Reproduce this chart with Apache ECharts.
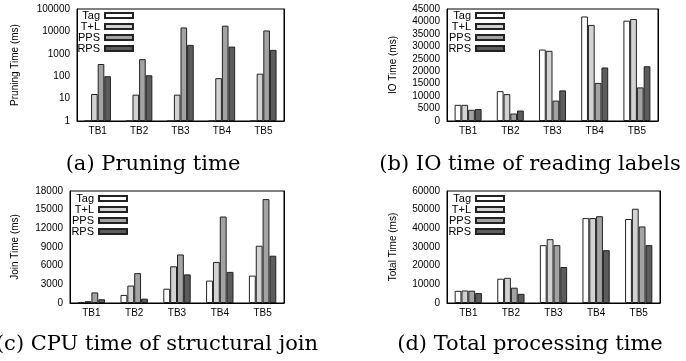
<!DOCTYPE html>
<html>
<head>
<meta charset="utf-8">
<script src="https://cdn.jsdelivr.net/npm/echarts@6/dist/echarts.min.js"></script>
<style>
  html, body { margin: 0; padding: 0; background: #fff; }
  #chart { width: 686px; height: 361px; }
</style>
</head>
<body>
<div id="chart"></div>
<script>
// categories and series names
const categories = ["TB1", "TB2", "TB3", "TB4", "TB5"];
const seriesNames = ["Tag", "T+L", "PPS", "RPS"];
const seriesColors = ["#ffffff", "#d2d2d2", "#a3a3a3", "#5c5c5c"];

// (a) pruning time, log scale
const pruneTag = [1, 1, 1, 1, 1];
const pruneTL = [16, 15, 15, 82, 130];
const prunePPS = [350, 580, 15000, 18000, 11000];
const pruneRPS = [100, 110, 2500, 2100, 1500];

// (b) IO time
const ioTag = [6500, 12000, 28700, 42000, 40300];
const ioTL = [6500, 10800, 28200, 38600, 41000];
const ioPPS = [4500, 3000, 8200, 15300, 13500];
const ioRPS = [4800, 4200, 12300, 21500, 22000];

// (c) join time
const joinTag = [100, 1300, 2300, 3600, 4400];
const joinTL = [300, 2800, 5900, 6600, 9200];
const joinPPS = [1700, 4800, 7800, 13900, 16700];
const joinRPS = [600, 700, 4600, 5000, 7600];

// (d) total time
const totalTag = [6500, 13000, 31000, 45500, 45000];
const totalTL = [6700, 13500, 34200, 45500, 50500];
const totalPPS = [6600, 8200, 31000, 46500, 41000];
const totalRPS = [5300, 4900, 19300, 28300, 31000];

// y axis ranges (min, max, step)
const pruneTicks = [1, 100000];
const ioTicks = [0, 45000, 5000];
const joinTicks = [0, 18000, 3000];
const totalTicks = [0, 60000, 10000];

const captions = [
  "(a) Pruning time",
  "(b) IO time of reading labels",
  "(c) CPU time of structural join",
  "(d) Total processing time",
];
const axisNames = ["Pruning Time (ms)", "IO Time (ms)", "Join Time (ms)", "Total Time (ms)"];

const panels = [
  { grid: { left: 77, top: 9, width: 207, height: 112 }, nameGap: 57, legend: { right: 552, top: 10 },
    caption: [153, 165], log: true, ticks: pruneTicks, data: [pruneTag, pruneTL, prunePPS, pruneRPS] },
  { grid: { left: 447, top: 9, width: 211, height: 112 }, nameGap: 49, legend: { right: 181, top: 10 },
    caption: [530, 165], ticks: ioTicks, data: [ioTag, ioTL, ioPPS, ioRPS] },
  { grid: { left: 70, top: 191, width: 214, height: 112 }, nameGap: 50, legend: { right: 558, top: 193 },
    caption: [157, 345], ticks: joinTicks, data: [joinTag, joinTL, joinPPS, joinRPS] },
  { grid: { left: 447, top: 191, width: 213, height: 112 }, nameGap: 49, legend: { right: 181, top: 193 },
    caption: [530, 345], ticks: totalTicks, data: [totalTag, totalTL, totalPPS, totalRPS] },
];

const sans = "Liberation Sans";
const option = {
  animation: false,
  grid: [],
  xAxis: [],
  yAxis: [],
  legend: [],
  series: [],
  graphic: [],
};

panels.forEach((p, i) => {
  option.grid.push(Object.assign({ show: true, borderColor: "#000", borderWidth: 1, containLabel: false }, p.grid));
  option.xAxis.push({
    type: "category",
    gridIndex: i,
    data: categories,
    axisLine: { lineStyle: { color: "#000" } },
    axisTick: { show: false },
    axisLabel: { color: "#000", fontFamily: sans, fontSize: 10, margin: 5 },
  });
  const yBase = {
    gridIndex: i,
    splitLine: { show: false },
    axisLine: { show: true, lineStyle: { color: "#000" } },
    axisTick: { inside: true, length: 4, lineStyle: { color: "#000" } },
  };
  const scale = p.log
    ? { type: "log", logBase: 10, min: p.ticks[0], max: p.ticks[1] }
    : { type: "value", min: p.ticks[0], max: p.ticks[1], interval: p.ticks[2] };
  option.yAxis.push(Object.assign({}, yBase, scale, {
    name: axisNames[i],
    nameLocation: "middle",
    nameGap: p.nameGap,
    nameTextStyle: { color: "#000", fontFamily: sans, fontSize: 10 },
    axisLabel: { color: "#000", fontFamily: sans, fontSize: 10, margin: 7, formatter: (v) => String(v) },
  }));
  // mirrored ticks on the right edge
  option.yAxis.push(Object.assign({}, yBase, scale, {
    position: "right",
    axisLabel: { show: false },
  }));
  option.legend.push(Object.assign({
    orient: "vertical",
    align: "right",
    padding: 0,
    itemGap: 0,
    itemWidth: 28,
    itemHeight: 5,
    icon: "rect",
    selectedMode: false,
    data: seriesNames,
    textStyle: { color: "#000", fontFamily: sans, fontSize: 11, lineHeight: 10.5 },
  }, p.legend));
  seriesNames.forEach((name, k) => {
    option.series.push({
      name: name,
      type: "bar",
      xAxisIndex: i,
      yAxisIndex: i * 2,
      barGap: "0%",
      barCategoryGap: "36%",
      itemStyle: { color: seriesColors[k], borderColor: "#222", borderWidth: 1 },
      data: p.data[k],
    });
  });
  option.graphic.push({
    type: "text",
    x: p.caption[0],
    y: p.caption[1],
    style: {
      text: captions[i],
      font: '21px "DejaVu Serif"',
      fill: "#000",
      textAlign: "center",
      textVerticalAlign: "middle",
    },
  });
});

const myChart = echarts.init(document.getElementById("chart"));
myChart.setOption(option);
</script>
</body>
</html>
